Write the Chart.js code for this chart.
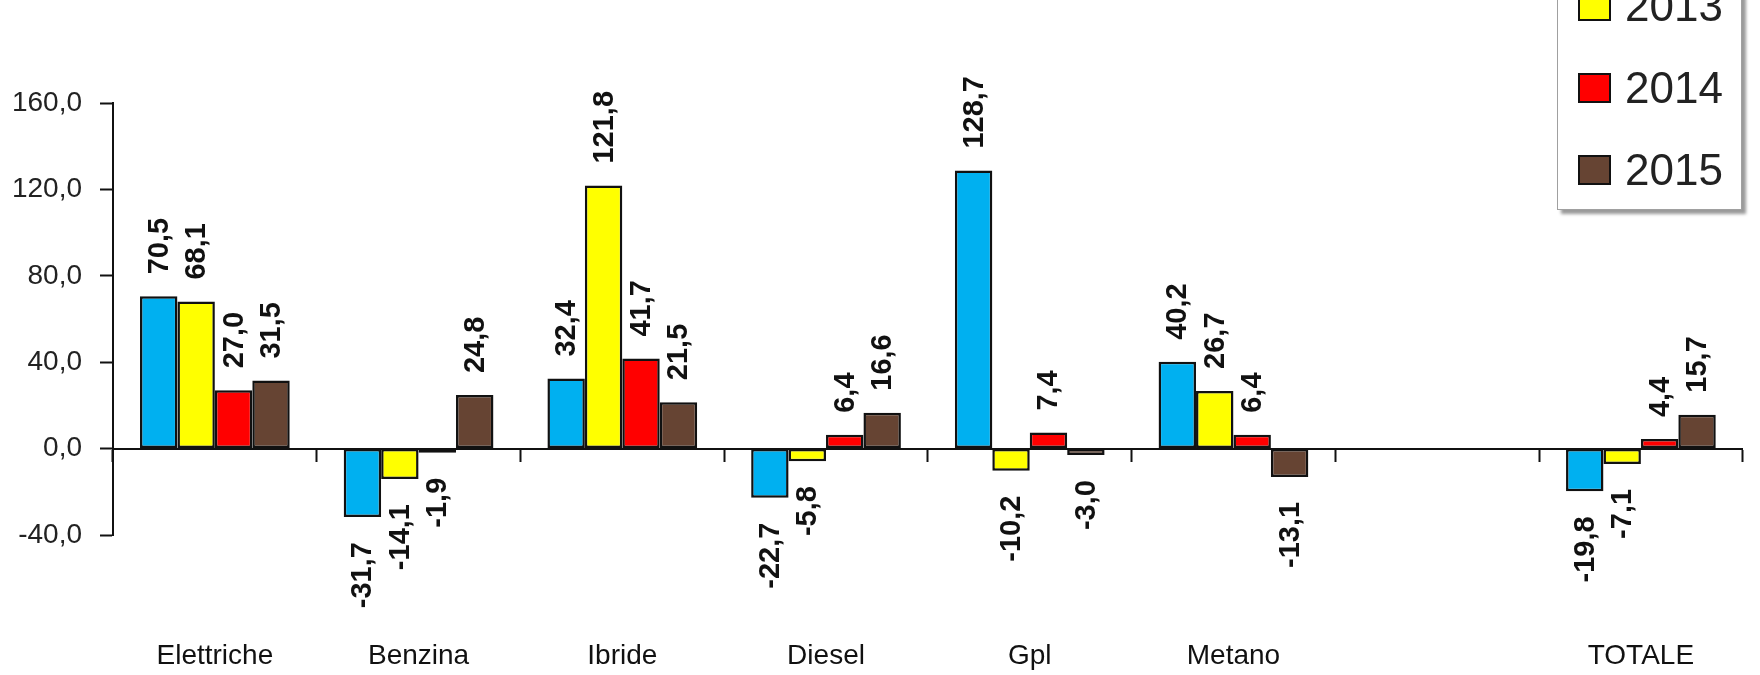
<!DOCTYPE html>
<html lang="it">
<head>
  <meta charset="UTF-8">
  <title>Variazioni per alimentazione</title>
  <style>
    body {
      margin: 0;
      overflow: hidden;
      background: #fff;
      font-family: "Liberation Sans", Arial, sans-serif;
    }
    #wrap {
      position: relative;
      width: 1800px;
      height: 675px;
    }
    /* legenda in alto a destra, tagliata in cima come nell'originale */
    #legend {
      position: absolute;
      left: 1557px;
      top: -122px;
      width: 183px;
      height: 330px;
      border: 1px solid #a0a0a0;
      background: #fff;
      box-shadow: 4px 4px 3px #9a9a9a;
      z-index: 2;
    }
    .leg-item {
      position: absolute;
      left: 20px;
      height: 50px;
      display: flex;
      align-items: center;
      font-size: 44px;
      color: #222;
    }
    .leg-box {
      width: 29px;
      height: 26px;
      border: 2px solid #111;
      margin-right: 14px;
    }
  </style>
  <script src="https://cdn.jsdelivr.net/npm/chart.js@4"></script>
</head>
<body>
  <div id="wrap">
    <canvas id="chart" width="1800" height="675"></canvas>
    <div id="legend"></div>
  </div>

  <script>
    // dati (variazione %)
    const categories = ['Elettriche', 'Benzina', 'Ibride', 'Diesel', 'Gpl', 'Metano', '', 'TOTALE'];
    const seriesNames = ['2012', '2013', '2014', '2015'];
    const seriesColors = ['#00B0F0', '#FFFF00', '#FF0000', '#664433'];
    const values2012 = [70.5, -31.7, 32.4, -22.7, 128.7, 40.2, null, -19.8];
    const values2013 = [68.1, -14.1, 121.8, -5.8, -10.2, 26.7, null, -7.1];
    const values2014 = [27.0, -1.9, 41.7, 6.4, 7.4, 6.4, null, 4.4];
    const values2015 = [31.5, 24.8, 21.5, 16.6, -3.0, -13.1, null, 15.7];
    const yTicks = [-40, 0, 40, 80, 120, 160];

    const allValues = [values2012, values2013, values2014, values2015];

    // formato italiano con la virgola
    function fmt(v) {
      return v.toFixed(1).replace('.', ',');
    }

    // etichette ruotate sopra / sotto le barre
    const barLabels = {
      id: 'barLabels',
      afterDatasetsDraw(chart) {
        const ctx = chart.ctx;
        ctx.save();
        ctx.font = 'bold 29px "Liberation Sans", Arial, sans-serif';
        ctx.fillStyle = '#111';
        ctx.textBaseline = 'middle';
        chart.data.datasets.forEach((ds, i) => {
          const meta = chart.getDatasetMeta(i);
          meta.data.forEach((bar, j) => {
            const v = ds.data[j];
            if (v === null || v === undefined) return;
            const gap = v >= 0 ? 22 : 25;
            ctx.save();
            ctx.translate(bar.x, v >= 0 ? bar.y - gap : bar.y + gap);
            ctx.rotate(-Math.PI / 2);
            ctx.textAlign = v >= 0 ? 'left' : 'right';
            ctx.fillText(fmt(v), 0, 1);
            ctx.restore();
          });
        });
        ctx.restore();
      }
    };

    const datasets = seriesNames.map((name, i) => ({
      label: name,
      data: allValues[i],
      backgroundColor: seriesColors[i],
      borderColor: '#111',
      borderWidth: 2.5,
      borderSkipped: false,
      categoryPercentage: 0.735,
      barPercentage: 1.0,
      xAxisID: 'x',
      yAxisID: 'y'
    }));

    const axisFont = { family: '"Liberation Sans", Arial, sans-serif', size: 28 };

    new Chart(document.getElementById('chart'), {
      type: 'bar',
      data: { labels: categories, datasets: datasets },
      options: {
        responsive: false,
        animation: false,
        layout: { padding: { top: 103, right: 31, bottom: 0, left: 0 } },
        plugins: {
          legend: { display: false },
          tooltip: { enabled: false }
        },
        scales: {
          // asse delle categorie sullo zero, solo linea e tacche
          x: {
            type: 'category',
            position: { y: 0 },
            offset: true,
            ticks: { display: false },
            grid: {
              offset: true,
              drawOnChartArea: false,
              drawTicks: true,
              tickLength: 12,
              tickColor: '#111',
              tickWidth: 2,
              color: '#111'
            },
            border: { display: true, color: '#111', width: 2 }
          },
          // secondo asse solo per i nomi in basso
          x2: {
            type: 'category',
            labels: categories,
            position: 'bottom',
            offset: true,
            afterFit(scale) {
              scale.height = 140;
            },
            grid: { display: false, drawTicks: false },
            border: { display: false },
            ticks: {
              padding: 104,
              color: '#111',
              maxRotation: 0,
              autoSkip: false,
              font: axisFont
            }
          },
          y: {
            min: -40,
            max: 160,
            afterBuildTicks(scale) {
              scale.ticks = yTicks.map(v => ({ value: v }));
            },
            afterFit(scale) {
              scale.width = 113;
            },
            ticks: {
              padding: 18,
              color: '#222',
              font: axisFont,
              callback: v => fmt(v)
            },
            grid: {
              drawOnChartArea: false,
              drawTicks: true,
              tickLength: 13,
              tickColor: '#111',
              tickWidth: 2
            },
            border: { display: true, color: '#111', width: 2 }
          }
        }
      },
      plugins: [barLabels]
    });

    // legenda fatta a mano
    const legend = document.getElementById('legend');
    seriesNames.forEach((name, i) => {
      const item = document.createElement('div');
      item.className = 'leg-item';
      item.style.top = (20 + i * 82) + 'px';
      const box = document.createElement('div');
      box.className = 'leg-box';
      box.style.backgroundColor = seriesColors[i];
      const txt = document.createElement('span');
      txt.textContent = name;
      item.appendChild(box);
      item.appendChild(txt);
      legend.appendChild(item);
    });
  </script>
</body>
</html>
